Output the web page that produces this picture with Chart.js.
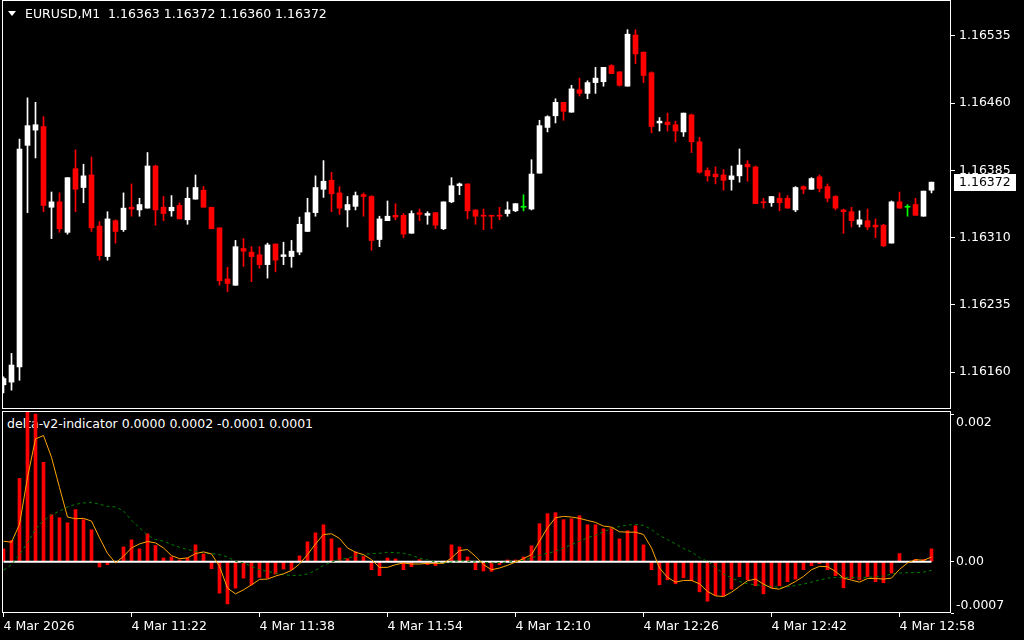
<!DOCTYPE html>
<html>
<head>
<meta charset="utf-8">
<script src="https://cdn.jsdelivr.net/npm/chart.js"></script>
<style>
  body { margin: 0; background: #000; }
  #wrap { position: relative; width: 1024px; height: 640px; background: #000; overflow: hidden; }
  canvas { position: absolute; left: 0; }
  .txt { position: absolute; color: #fff; font: 12.5px "DejaVu Sans", sans-serif; line-height: 16px; white-space: pre; }
  #tri { position: absolute; left: 8px; top: 11px; width: 0; height: 0;
         border-left: 4px solid transparent; border-right: 4px solid transparent; border-top: 5px solid #fff; }
</style>
</head>
<body>
<div id="wrap">
  <div class="txt" id="deltaTitle" style="left:7px;top:416px"></div>
  <canvas id="priceChart" width="1024" height="410" style="top:0"></canvas>
  <canvas id="deltaChart" width="1024" height="230" style="top:410px"></canvas>
  <div id="tri"></div>
  <div class="txt" id="priceTitle" style="left:25px;top:6px"></div>
</div>
<script>
// EURUSD M1 candles, 11:06 .. 13:02
const symbol = 'EURUSD,M1';
const indicatorName = 'delta-v2-indicator';

const opens = [
  1.16146, 1.16149, 1.16166, 1.16413, 1.16430, 1.16434, 1.16344, 1.16350, 1.16316, 1.16387,
  1.16366, 1.16380, 1.16323, 1.16289, 1.16329, 1.16319, 1.16344, 1.16341, 1.16343, 1.16390,
  1.16344, 1.16340, 1.16346, 1.16330, 1.16353, 1.16363, 1.16344, 1.16321, 1.16264, 1.16257,
  1.16298, 1.16294, 1.16291, 1.16280, 1.16303, 1.16289, 1.16289, 1.16294, 1.16317, 1.16338,
  1.16364, 1.16374, 1.16360, 1.16341, 1.16345, 1.16358, 1.16356, 1.16308, 1.16329, 1.16335,
  1.16335, 1.16315, 1.16338, 1.16335, 1.16338, 1.16320, 1.16350, 1.16368, 1.16370, 1.16341,
  1.16335, 1.16335, 1.16335, 1.16337, 1.16340, 1.16344, 1.16342, 1.16382, 1.16433, 1.16446,
  1.16461, 1.16450, 1.16475, 1.16471, 1.16483, 1.16484, 1.16502, 1.16495, 1.16479, 1.16536,
  1.16517, 1.16494, 1.16438, 1.16439, 1.16436, 1.16428, 1.16447, 1.16417, 1.16385, 1.16381,
  1.16380, 1.16375, 1.16379, 1.16392, 1.16389, 1.16350, 1.16349, 1.16354, 1.16354, 1.16341,
  1.16367, 1.16364, 1.16378, 1.16367, 1.16356, 1.16341, 1.16339, 1.16325, 1.16329, 1.16324,
  1.16324, 1.16304, 1.16350, 1.16344, 1.16347, 1.16334, 1.16363
];
const highs = [
  1.16155, 1.16181, 1.16420, 1.16466, 1.16461, 1.16445, 1.16361, 1.16360, 1.16377, 1.16408,
  1.16392, 1.16400, 1.16328, 1.16339, 1.16330, 1.16360, 1.16370, 1.16354, 1.16405, 1.16391,
  1.16356, 1.16357, 1.16349, 1.16366, 1.16380, 1.16367, 1.16344, 1.16321, 1.16277, 1.16307,
  1.16309, 1.16300, 1.16300, 1.16304, 1.16303, 1.16305, 1.16307, 1.16333, 1.16354, 1.16379,
  1.16396, 1.16383, 1.16367, 1.16356, 1.16361, 1.16360, 1.16357, 1.16334, 1.16351, 1.16348,
  1.16337, 1.16340, 1.16342, 1.16339, 1.16338, 1.16350, 1.16377, 1.16371, 1.16370, 1.16341,
  1.16342, 1.16335, 1.16344, 1.16350, 1.16348, 1.16358, 1.16397, 1.16441, 1.16446, 1.16465,
  1.16461, 1.16480, 1.16488, 1.16485, 1.16500, 1.16500, 1.16503, 1.16495, 1.16542, 1.16542,
  1.16517, 1.16495, 1.16444, 1.16449, 1.16440, 1.16449, 1.16448, 1.16422, 1.16388, 1.16389,
  1.16386, 1.16390, 1.16409, 1.16396, 1.16390, 1.16354, 1.16356, 1.16360, 1.16357, 1.16367,
  1.16368, 1.16377, 1.16380, 1.16370, 1.16357, 1.16342, 1.16344, 1.16340, 1.16342, 1.16331,
  1.16325, 1.16351, 1.16361, 1.16347, 1.16354, 1.16362, 1.16372
];
const lows = [
  1.16137, 1.16140, 1.16151, 1.16338, 1.16399, 1.16339, 1.16309, 1.16316, 1.16314, 1.16339,
  1.16349, 1.16317, 1.16285, 1.16285, 1.16304, 1.16317, 1.16334, 1.16334, 1.16343, 1.16324,
  1.16329, 1.16334, 1.16331, 1.16325, 1.16353, 1.16344, 1.16320, 1.16257, 1.16250, 1.16257,
  1.16278, 1.16261, 1.16276, 1.16265, 1.16272, 1.16280, 1.16277, 1.16291, 1.16317, 1.16334,
  1.16355, 1.16339, 1.16336, 1.16322, 1.16341, 1.16334, 1.16296, 1.16300, 1.16329, 1.16330,
  1.16310, 1.16315, 1.16329, 1.16325, 1.16320, 1.16319, 1.16349, 1.16358, 1.16331, 1.16325,
  1.16319, 1.16320, 1.16330, 1.16334, 1.16339, 1.16340, 1.16341, 1.16382, 1.16428, 1.16438,
  1.16441, 1.16450, 1.16468, 1.16465, 1.16471, 1.16479, 1.16493, 1.16479, 1.16479, 1.16504,
  1.16483, 1.16427, 1.16429, 1.16429, 1.16417, 1.16423, 1.16405, 1.16382, 1.16373, 1.16370,
  1.16363, 1.16363, 1.16372, 1.16373, 1.16348, 1.16343, 1.16345, 1.16340, 1.16343, 1.16339,
  1.16359, 1.16364, 1.16361, 1.16350, 1.16341, 1.16315, 1.16322, 1.16322, 1.16319, 1.16310,
  1.16300, 1.16304, 1.16343, 1.16334, 1.16335, 1.16334, 1.16360
];
const closes = [
  1.16153, 1.16168, 1.16409, 1.16435, 1.16436, 1.16346, 1.16350, 1.16320, 1.16377, 1.16364,
  1.16379, 1.16321, 1.16290, 1.16331, 1.16317, 1.16343, 1.16342, 1.16347, 1.16390, 1.16341,
  1.16337, 1.16344, 1.16331, 1.16354, 1.16366, 1.16344, 1.16320, 1.16262, 1.16259, 1.16300,
  1.16295, 1.16289, 1.16280, 1.16302, 1.16285, 1.16291, 1.16295, 1.16325, 1.16338, 1.16366,
  1.16373, 1.16359, 1.16343, 1.16347, 1.16357, 1.16356, 1.16307, 1.16331, 1.16334, 1.16333,
  1.16314, 1.16337, 1.16336, 1.16337, 1.16324, 1.16350, 1.16368, 1.16370, 1.16340, 1.16334,
  1.16334, 1.16334, 1.16334, 1.16341, 1.16348, 1.16344, 1.16381, 1.16435, 1.16445, 1.16461,
  1.16451, 1.16476, 1.16471, 1.16483, 1.16488, 1.16500, 1.16493, 1.16480, 1.16537, 1.16515,
  1.16491, 1.16434, 1.16440, 1.16436, 1.16429, 1.16449, 1.16417, 1.16383, 1.16379, 1.16378,
  1.16374, 1.16379, 1.16391, 1.16389, 1.16348, 1.16349, 1.16356, 1.16349, 1.16343, 1.16366,
  1.16364, 1.16376, 1.16365, 1.16354, 1.16343, 1.16339, 1.16329, 1.16330, 1.16322, 1.16322,
  1.16301, 1.16350, 1.16343, 1.16344, 1.16335, 1.16362, 1.16372
];

// delta indicator buffers
const deltaHist = [
  0.000174, 0.000288, 0.001134, 0.002040, 0.002010, 0.001354, 0.000640, 0.000599, 0.000530, 0.000709,
  0.000572, 0.000434, -0.000073, -0.000041, 0.000000, 0.000201, 0.000297, 0.000174, 0.000380, 0.000220,
  0.000050, 0.000064, 0.000023, 0.000050, 0.000229, 0.000105, -0.000096, -0.000430, -0.000576, -0.000361,
  -0.000224, -0.000316, -0.000215, -0.000224, -0.000169, -0.000101, -0.000110, 0.000078, 0.000270, 0.000393,
  0.000503, 0.000311, 0.000187, 0.000041, 0.000133, 0.000069, -0.000110, -0.000192, 0.000050, 0.000037,
  -0.000110, -0.000069, 0.000027, -0.000041, -0.000055, 0.000005, 0.000229, 0.000201, 0.000064, -0.000110,
  -0.000128, -0.000133, -0.000041, 0.000023, 0.000023, 0.000064, 0.000215, 0.000517, 0.000654, 0.000668,
  0.000572, 0.000585, 0.000627, 0.000503, 0.000503, 0.000448, 0.000462, 0.000311, 0.000421, 0.000489,
  0.000229, -0.000110, -0.000316, -0.000247, -0.000302, -0.000220, -0.000261, -0.000412, -0.000540, -0.000457,
  -0.000466, -0.000375, -0.000206, -0.000247, -0.000329, -0.000439, -0.000357, -0.000329, -0.000274, -0.000238,
  -0.000110, -0.000055, -0.000027, -0.000110, -0.000192, -0.000357, -0.000233, -0.000247, -0.000206, -0.000274,
  -0.000288, -0.000155, 0.000110, 0.000000, 0.000032, 0.000027, 0.000174
];
const deltaFast = [
  0.000279, 0.000265, 0.000508, 0.001148, 0.001674, 0.001719, 0.001422, 0.001011, 0.000608, 0.000585,
  0.000590, 0.000553, 0.000325, 0.000114, -0.000018, 0.000073, 0.000187, 0.000242, 0.000274, 0.000256,
  0.000187, 0.000082, 0.000041, 0.000050, 0.000110, 0.000133, 0.000105, -0.000064, -0.000361, -0.000439,
  -0.000384, -0.000316, -0.000242, -0.000238, -0.000197, -0.000165, -0.000119, -0.000032, 0.000096, 0.000242,
  0.000370, 0.000380, 0.000316, 0.000187, 0.000128, 0.000096, 0.000027, -0.000078, -0.000078, -0.000041,
  -0.000018, -0.000032, -0.000032, -0.000023, -0.000023, -0.000023, 0.000050, 0.000151, 0.000165, 0.000073,
  -0.000041, -0.000110, -0.000087, -0.000050, -0.000005, 0.000041, 0.000096, 0.000279, 0.000462, 0.000599,
  0.000617, 0.000608, 0.000590, 0.000562, 0.000535, 0.000485, 0.000471, 0.000407, 0.000402, 0.000402,
  0.000370, 0.000187, -0.000087, -0.000215, -0.000279, -0.000256, -0.000256, -0.000302, -0.000407, -0.000466,
  -0.000476, -0.000416, -0.000338, -0.000261, -0.000238, -0.000306, -0.000361, -0.000375, -0.000329, -0.000270,
  -0.000201, -0.000110, -0.000064, -0.000069, -0.000133, -0.000224, -0.000252, -0.000279, -0.000229, -0.000229,
  -0.000238, -0.000224, -0.000105, -0.000018, 0.000027, 0.000018, 0.000064
];
const deltaSlow = [
  -0.000114, -0.000041, 0.000096, 0.000256, 0.000439, 0.000562, 0.000636, 0.000691, 0.000745, 0.000782,
  0.000800, 0.000809, 0.000782, 0.000755, 0.000745, 0.000691, 0.000562, 0.000462, 0.000361, 0.000302,
  0.000279, 0.000233, 0.000197, 0.000165, 0.000142, 0.000119, 0.000110, 0.000096, 0.000064, 0.000005,
  -0.000018, -0.000064, -0.000110, -0.000133, -0.000155, -0.000178, -0.000187, -0.000187, -0.000169, -0.000119,
  -0.000050, -0.000005, 0.000023, 0.000050, 0.000073, 0.000096, 0.000110, 0.000114, 0.000128, 0.000123,
  0.000114, 0.000087, 0.000046, 0.000023, -0.000005, -0.000018, -0.000005, 0.000014, 0.000005, -0.000005,
  -0.000009, -0.000018, -0.000014, -0.000005, 0.000005, 0.000018, 0.000050, 0.000087, 0.000114, 0.000142,
  0.000187, 0.000233, 0.000279, 0.000325, 0.000361, 0.000407, 0.000453, 0.000480, 0.000498, 0.000508,
  0.000494, 0.000439, 0.000357, 0.000302, 0.000242, 0.000178, 0.000133, 0.000055, 0.000005, -0.000078,
  -0.000165, -0.000224, -0.000270, -0.000302, -0.000316, -0.000325, -0.000338, -0.000352, -0.000343, -0.000325,
  -0.000306, -0.000279, -0.000252, -0.000224, -0.000215, -0.000215, -0.000215, -0.000224, -0.000215, -0.000206,
  -0.000197, -0.000169, -0.000155, -0.000151, -0.000151, -0.000142, -0.000119
];
const deltaBase = 0;

// axis ticks
const priceTicks = [1.16160, 1.16235, 1.16310, 1.16385, 1.16460, 1.16535];
const deltaTicks = [-0.0007, 0, 0.002];
const deltaTickText = ['-0.0007', '0.00', '0.002'];
const timeTickIdx = [0, 16, 32, 48, 64, 80, 96, 112];
const timeTickText = ['4 Mar 2026', '4 Mar 11:22', '4 Mar 11:38', '4 Mar 11:54',
                      '4 Mar 12:10', '4 Mar 12:26', '4 Mar 12:42', '4 Mar 12:58'];

const last = closes.length - 1;
const WHITE = '#ffffff', RED = '#ff0000', DOJI = '#00ff00';
const candleColor = opens.map((o, i) => closes[i] > o ? WHITE : (closes[i] < o ? RED : DOJI));

// both panels share this x range (bar index), 8px per bar
const X_MIN = -0.0625, X_MAX = 118.4375;

document.getElementById('priceTitle').textContent =
  symbol + '  ' + [opens[last], highs[last], lows[last], closes[last]].map(v => v.toFixed(5)).join(' ');
document.getElementById('deltaTitle').textContent =
  indicatorName + ' ' + [deltaBase, deltaHist[last], deltaSlow[last], deltaFast[last]].map(v => v.toFixed(4)).join(' ');

Chart.defaults.font.family = '"DejaVu Sans", sans-serif';
Chart.defaults.font.size = 12.5;
Chart.defaults.color = '#ffffff';

// white frame round each panel
const frame = {
  id: 'frame',
  afterDraw(chart) {
    const { ctx, chartArea: a } = chart;
    ctx.save();
    ctx.strokeStyle = '#ffffff';
    ctx.lineWidth = 1;
    ctx.strokeRect(a.left - 0.5, a.top - 0.5, a.right - a.left, a.bottom - a.top);
    ctx.restore();
  }
};

// current price box on the right axis
const priceTag = {
  id: 'priceTag',
  afterDraw(chart) {
    const { ctx, chartArea: a } = chart;
    const y = Math.round(chart.scales.y.getPixelForValue(closes[last]));
    ctx.save();
    ctx.fillStyle = '#ffffff';
    ctx.fillRect(a.right + 3, y - 8, 62, 17);
    ctx.fillStyle = '#000000';
    ctx.font = '12.5px "DejaVu Sans", sans-serif';
    ctx.textBaseline = 'middle';
    ctx.fillText(closes[last].toFixed(5), a.right + 8, y + 1);
    ctx.restore();
  }
};

new Chart(document.getElementById('priceChart'), {
  type: 'bar',
  data: {
    datasets: [
      {
        label: 'body',
        data: opens.map((o, i) => ({ x: i, y: [o, closes[i]] })),
        backgroundColor: candleColor,
        barThickness: 5,
        minBarLength: 1,
        grouped: false
      },
      {
        label: 'wick',
        data: lows.map((l, i) => ({ x: i, y: [l, highs[i]] })),
        backgroundColor: candleColor,
        barThickness: 1,
        grouped: false
      }
    ]
  },
  options: {
    responsive: false,
    animation: false,
    devicePixelRatio: 1,
    layout: { padding: { left: 3, top: 1, right: 0, bottom: 1 } },
    plugins: { legend: { display: false }, tooltip: { enabled: false } },
    scales: {
      x: { type: 'linear', display: false, min: X_MIN, max: X_MAX, offset: false },
      y: {
        position: 'right',
        min: 1.16119,
        max: 1.16574,
        afterBuildTicks: s => { s.ticks = priceTicks.map(v => ({ value: v })); },
        afterFit: s => { s.width = 73; s.paddingTop = 0; s.paddingBottom = 0; },
        grid: { drawOnChartArea: false, color: '#ffffff', tickLength: 4 },
        border: { display: false },
        ticks: { padding: 4, color: '#ffffff', callback: v => v.toFixed(5) }
      }
    }
  },
  plugins: [frame, priceTag]
});

new Chart(document.getElementById('deltaChart'), {
  type: 'bar',
  data: {
    datasets: [
      {
        type: 'line',
        label: 'fast',
        data: deltaFast.map((v, i) => ({ x: i, y: v })),
        borderColor: '#ffa500',
        borderWidth: 1,
        pointRadius: 0
      },
      {
        type: 'line',
        label: 'slow',
        data: deltaSlow.map((v, i) => ({ x: i, y: v })),
        borderColor: '#008000',
        borderWidth: 1,
        borderDash: [3, 3],
        pointRadius: 0
      },
      {
        type: 'line',
        label: 'zero',
        data: [{ x: 0, y: 0 }, { x: last, y: 0 }],
        borderColor: '#ffffff',
        borderWidth: 2,
        pointRadius: 0
      },
      {
        type: 'bar',
        label: 'delta',
        data: deltaHist.map((v, i) => ({ x: i, y: v })),
        backgroundColor: RED,
        barThickness: 3
      }
    ]
  },
  options: {
    responsive: false,
    animation: false,
    devicePixelRatio: 1,
    layout: { padding: { left: 3, top: 2, right: 0, bottom: 0 } },
    plugins: { legend: { display: false }, tooltip: { enabled: false } },
    scales: {
      x: {
        type: 'linear',
        min: X_MIN,
        max: X_MAX,
        offset: false,
        afterBuildTicks: s => { s.ticks = timeTickIdx.map(v => ({ value: v })); },
        afterFit: s => { s.height = 27; s.paddingLeft = 0; s.paddingRight = 0; },
        grid: { drawOnChartArea: false, offset: false, color: '#ffffff', tickLength: 4 },
        border: { display: false },
        ticks: {
          align: 'start',
          autoSkip: false,
          maxRotation: 0,
          padding: 2,
          color: '#ffffff',
          callback: (v, i) => timeTickText[i]
        }
      },
      y: {
        position: 'right',
        min: -0.0007,
        max: 0.00204,
        afterBuildTicks: s => { s.ticks = deltaTicks.map(v => ({ value: v })); },
        afterFit: s => { s.width = 73; s.paddingTop = 0; s.paddingBottom = 0; },
        grid: { drawOnChartArea: false, color: '#ffffff', tickLength: 3 },
        border: { display: false },
        ticks: {
          padding: 2,
          color: '#ffffff',
          // keep the end labels inside the panel, as the terminal does
          callback: (v, i) => i === 0 ? [deltaTickText[i], ''] :
                              (i === deltaTicks.length - 1 ? ['', deltaTickText[i]] : deltaTickText[i])
        }
      }
    }
  },
  plugins: [frame]
});
</script>
</body>
</html>
